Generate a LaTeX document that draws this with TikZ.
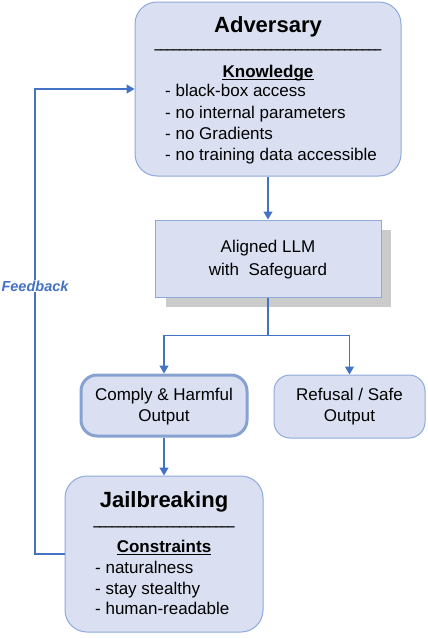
\documentclass[tikz,border=0pt]{standalone}
\usepackage{fontspec}
\setmainfont{Liberation Sans}
\newfontfamily\ulfont{Liberation Sans}[FakeBold=3]
\usetikzlibrary{arrows.meta}
\definecolor{boxfill}{HTML}{DAE0F1}
\definecolor{boxline}{HTML}{8EAADB}
\definecolor{arrowc}{HTML}{4472C4}
\definecolor{shadowc}{HTML}{CBCBCB}
\tikzset{
  rbox/.style={draw=boxline, fill=boxfill, line width=1pt, inner sep=0pt},
  arr/.style={draw=arrowc, line width=1.2pt, -{Triangle[width=9pt,length=8pt]}},
  link/.style={draw=arrowc, line width=1.2pt},
  body/.style={font=\fontsize{17}{20}\selectfont, inner sep=0pt, anchor=base},
  bodyw/.style={font=\fontsize{17}{20}\selectfont, inner sep=0pt, anchor=base west},
  title/.style={font=\bfseries\fontsize{22}{26}\selectfont, inner sep=0pt, anchor=base},
  head/.style={font=\bfseries\fontsize{17}{20}\selectfont, inner sep=0pt, anchor=base},
  rule/.style={font=\ulfont\fontsize{11}{13}\selectfont, inner sep=0pt, anchor=base},
  uline/.style={line width=1pt, draw=black}
}
\begin{document}
\begin{tikzpicture}[x=1pt,y=-1pt]
\useasboundingbox (0,0) rectangle (428,638);

% Adversary
\node[rbox, rounded corners=22pt, minimum width=266pt, minimum height=174pt] (adv) at (268,89) {};
\node[title] (advt) at (268,32.5) {Adversary};
\node[rule] (advl) at (268,48) {\_\_\_\_\_\_\_\_\_\_\_\_\_\_\_\_\_\_\_\_\_\_\_\_\_\_\_\_\_\_\_\_\_\_\_\_\_};
\node[head] (kn) at (268,77) {Knowledge};
\draw[uline] ([yshift=-2.6pt]kn.base west) -- ([yshift=-2.6pt]kn.base east);
\node[bodyw] (k1) at (165,96.7) {- black-box access};
\node[bodyw] (k2) at (165,118) {- no internal parameters};
\node[bodyw] (k3) at (165,139.3) {- no Gradients};
\node[bodyw] (k4) at (165,160.7) {- no training data accessible};

% LLM
\fill[shadowc] (166,230) rectangle (391,307);
\node[rbox, minimum width=226pt, minimum height=77pt] (llm) at (268,258.5) {};
\node[body] (l1) at (268,252.7) {Aligned LLM};
\node[body] (l2) at (268,275.7) {with\ \ Safeguard};

% Outputs
\node[rbox, draw=boxline!95!black, line width=3pt, rounded corners=16pt, minimum width=166pt, minimum height=61pt] (comp) at (164,405.5) {};
\node[body] (c1) at (164,400.7) {Comply \& Harmful};
\node[body] (c2) at (164,421.7) {Output};

\node[rbox, rounded corners=16pt, minimum width=151pt, minimum height=63pt] (ref) at (349.5,406.5) {};
\node[body] (r1) at (349.5,400.7) {Refusal / Safe};
\node[body] (r2) at (349.5,421.7) {Output};

% Jailbreaking
\node[rbox, rounded corners=22pt, minimum width=198pt, minimum height=156pt] (jail) at (164,554) {};
\node[title] (jt) at (164,507) {Jailbreaking};
\node[rule] (jl) at (164,525) {\_\_\_\_\_\_\_\_\_\_\_\_\_\_\_\_\_\_\_\_\_\_\_};
\node[head] (cons) at (164,552.3) {Constraints};
\draw[uline] ([yshift=-2.6pt]cons.base west) -- ([yshift=-2.6pt]cons.base east);
\node[bodyw] (j1) at (95,573.3) {- naturalness};
\node[bodyw] (j2) at (95,594) {- stay stealthy};
\node[bodyw] (j3) at (95,614.7) {- human-readable};

% Connectors
\draw[arr] (adv.south) -- (llm.north);
\coordinate (br) at (268,335.7);
\coordinate (brl) at (164,335.7);
\coordinate (brr) at (349.5,335.7);
\draw[link] (llm.south) -- (br);
\draw[arr] (br) -- (brl) -- (comp.north);
\draw[arr] (br) -- (brr) -- (ref.north);
\draw[arr] (comp.south) -- (jail.north);
\coordinate (fb) at (35,554);
\draw[arr] (jail.west) -- (fb) |- (adv.west);
\node[fill=white, inner sep=1pt, text=arrowc, font=\bfseries\itshape\fontsize{14.5}{17}\selectfont] (fbl) at (35,286) {Feedback};
\end{tikzpicture}
\end{document}
